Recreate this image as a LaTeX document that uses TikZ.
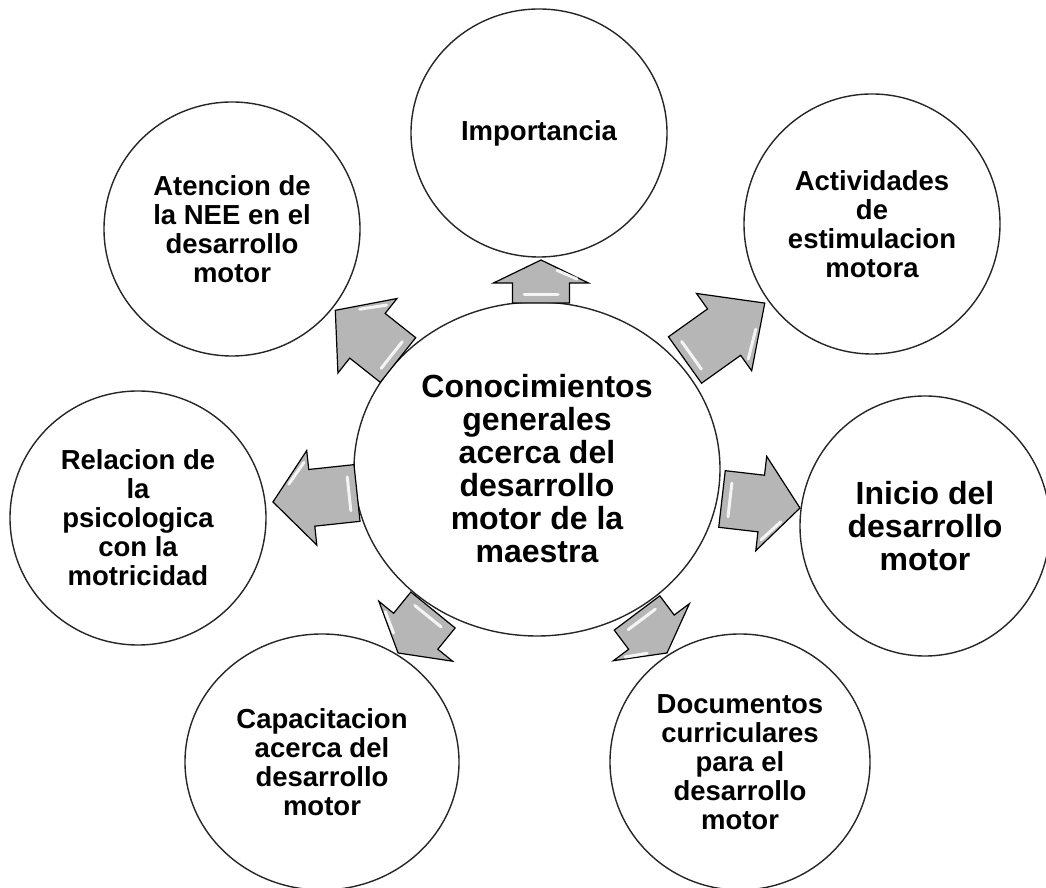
\documentclass[tikz,border=0pt]{standalone}
\usepackage{fontspec}
\setmainfont{Liberation Sans}
\usetikzlibrary{shapes.geometric}
\tikzset{
  bubble/.style={ellipse, draw=black!85, line width=1.4pt, fill=white, inner sep=0pt, align=center,
    font=\bfseries\fontsize{27.5}{29}\selectfont},
  hub/.style={bubble, font=\bfseries\fontsize{32}{33}\selectfont},
  arrowbody/.style={fill={rgb,255:red,182;green,182;blue,182}, draw=black, line width=1.2pt, line join=miter},
  glint/.style={white, line width=3pt, line cap=round, opacity=0.85},
}
% #1 x, #2 y, #3 angle, #4 length, #5 head length
\newcommand\blockarrow[5]{%
  \begin{scope}[shift={(#1,#2)}, rotate=#3]
    \draw[arrowbody] (0,-28.5) -- ({#4-#5},-28.5) -- ({#4-#5},-47.5) -- (#4,0)
      -- ({#4-#5},47.5) -- ({#4-#5},28.5) -- (0,28.5) -- cycle;
    \draw[glint] (8,-17) -- (8,17);
    \draw[glint] ({#4-#5+4},-36) -- ({#4-#5*0.45},-16);
  \end{scope}}
\begin{document}
\begin{tikzpicture}[x=1pt,y=1pt]
\useasboundingbox (0,0) rectangle (1046,888);
\fill[white] (0,0) rectangle (1046,888);

\node[hub, minimum width=366pt, minimum height=334pt] (hubnode) at (537,419)
  {Conocimientos\\generales\\acerca del\\desarrollo\\motor de la\\maestra};

\node[bubble, minimum width=256pt, minimum height=248pt] (imp) at (539,755) {Importancia};
\node[bubble, minimum width=256pt, minimum height=254pt] (aten) at (232,659)
  {Atencion de\\la NEE en el\\desarrollo\\motor};
\node[bubble, minimum width=256pt, minimum height=260pt] (activ) at (872,664)
  {Actividades\\de\\estimulacion\\motora};
\node[bubble, minimum width=256pt, minimum height=254pt] (rel) at (138,370)
  {Relacion de\\la\\psicologica\\con la\\motricidad};
\node[bubble, minimum width=250pt, minimum height=260pt,
  font=\bfseries\fontsize{32}{33}\selectfont] (ini) at (925,362)
  {Inicio del\\desarrollo\\motor};
\node[bubble, minimum width=274pt, minimum height=256pt] (cap) at (322,126)
  {Capacitacion\\acerca del\\desarrollo\\motor};
\node[bubble, minimum width=260pt, minimum height=256pt] (doc) at (740,126)
  {Documentos\\curriculares\\para el\\desarrollo\\motor};

\blockarrow{541}{585}{90}{43}{23}
\blockarrow{398}{528}{141.6}{80}{41}
\blockarrow{685}{528}{35.5}{98}{50}
\blockarrow{357}{395}{186.1}{84.5}{39}
\blockarrow{722}{389}{-6.6}{78.5}{39}
\blockarrow{433}{278}{230.9}{55.4}{28}
\blockarrow{637}{275}{-53.1}{50}{26}
\end{tikzpicture}
\end{document}
